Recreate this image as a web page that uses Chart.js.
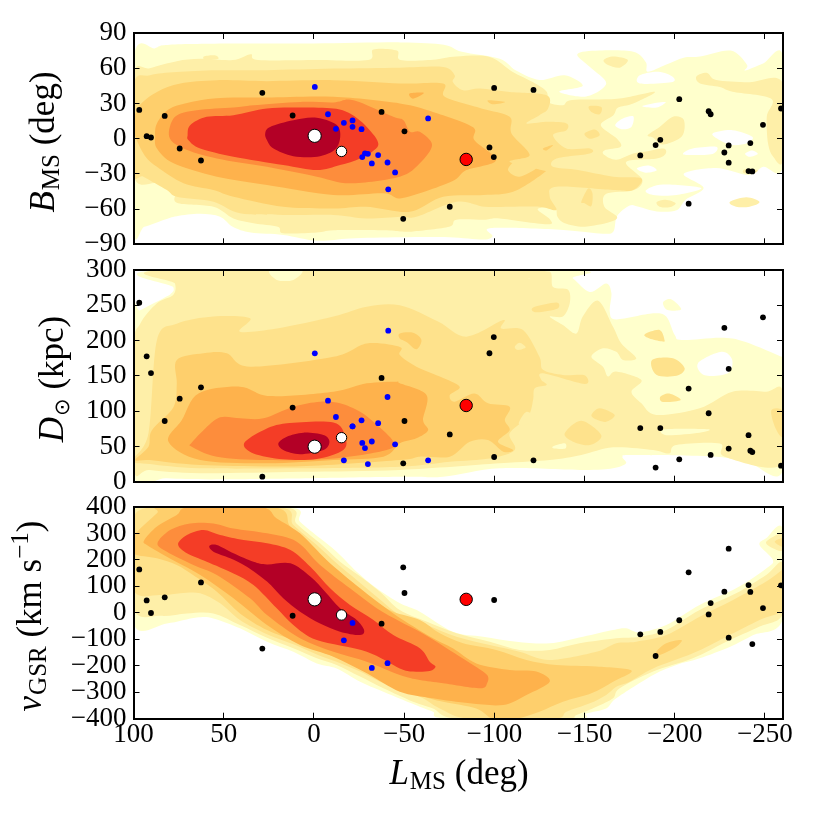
<!DOCTYPE html>
<html>
<head>
<meta charset="utf-8">
<title>Magellanic Stream coordinates</title>
<script src="https://cdn.jsdelivr.net/npm/chart.js@4"></script>
<style>
  html, body { margin: 0; background: #fff; }
  canvas { position: absolute; left: 0; }
</style>
</head>
<body>
<canvas id="panelB" width="814" height="280" style="top:0"></canvas>
<canvas id="panelD" width="814" height="282" style="top:235px"></canvas>
<canvas id="panelV" width="814" height="342" style="top:472px"></canvas>
<script>
// tick labels
const lTicks = [100, 50, 0, -50, -100, -150, -200, -250];
const bTicks = [-90, -60, -30, 0, 30, 60, 90];
const dTicks = [0, 50, 100, 150, 200, 250, 300];
const vTicks = [-400, -300, -200, -100, 0, 100, 200, 300, 400];

// black stars, same order in every panel (null = off the panel)
const blackL = [96.8, 92.7, 90.3, 82.7, 74.4, 62.6, 28.6, 11.8, -37.5, -50.2, -49.5, -75.3, -97.3, -99.7, -99.9, -121.7, -180.9, -189.4, -192, -202.5, -207.7, -218.8, -219.9, -227.5, -229.9, -229.9, -240.9, -243, -241.9, -248.9, -258.9];
const blackB = [24.5, 2.1, 1, 19.4, -8.4, -18.6, 39, 19.7, 22.8, 6.2, -68.3, -58, -7.5, -15.7, 43.2, 41.5, -14.3, -5.5, -1, 33.6, -55.4, 23.4, 20.8, -11.8, -5.8, -20.5, -27.6, -27.9, -3.8, 11.8, 25.7];
const blackD = [253.7, 177.7, 154, 86, 117.7, 133.7, 7.1, 105, 147, 86, 26, 67, 182, 205, 35, 30.3, 76, 20, 76, 31.7, 132, 97, 38, 218, 160, 47, 66, 42, 44, 233, 22.7];
const blackV = [164, 47, -0.6, 58.6, null, 115, -135, -11, -41, 75, 172, null, null, null, 48.5, null, -81, -163, -72, -28, 153, -6, 37, 80, 242.5, -94, 105, -118, 79, 18, 104];

// blue stars
const blueL = [-0.5, -7.8, -12.2, -16.6, -21.4, -21.4, -26.4, -26.8, -28.3, -29.9, -32.1, -35.6, -40.8, -41.2, -45, -63.3];
const blueB = [44.1, 20.8, 8.4, 13.5, 15.5, 10.1, 8.1, -15.7, -12.6, -12.9, -21.1, -14, -20.3, -43.2, -28.8, 17.2];
const blueD = [181.9, 114.8, 91.7, 30.3, 78.5, 78.5, 87, 55, 47.7, 25, 57, 83, 120, 214, 53, 30.3];
const blueV = [null, null, null, -104, -38, null, null, null, null, null, -208, null, -190, null, null, null];

// big markers: LMC, SMC, red one
const lmc = { l: -0.4, b: 2.4, d: 49.6, v: 51 };
const smc = { l: -15.3, b: -10.9, d: 62.4, v: -8 };
const red = { l: -84.4, b: -17.7, d: 108, v: 51 };

const levelColors = ['#ffffff', '#ffffcc', '#feefa8', '#fee28c', '#fecf6c', '#feb24c', '#fd8d3c', '#f43d26', '#b30026'];

// --- B panel contours, [L, B]
const bL1 = [[100,68],[88,77],[80,80],[45,81],[0,81],[-48,82],[-72,80],[-82,74],[-103,68],[-112,58],[-125,50],[-139,54],[-149,45],[-136,40],[-151,36],[-162,47],[-153,61],[-146,72],[-158,75],[-177,74],[-184,65],[-185,57],[-195,63],[-205,69],[-214,70],[-231,75],[-240,63],[-239,58],[-249,64],[-260,70],[-260,-23],[-249,-24],[-241,-31],[-223,-25],[-205,-30],[-216,-42],[-206,-52],[-201,-61],[-190,-62],[-180,-58],[-175,-57],[-168,-66],[-166,-79],[-160,-81],[-140,-78],[-107,-76],[-96,-77],[-99,-83],[-94,-86],[-75,-84],[-48,-84],[-20,-85],[-2,-87],[17,-82],[35,-80],[45,-75],[52,-66.5],[63,-64],[76,-66],[83,-69],[94,-75],[100,-76]];
const bHoles = [
  [[-167,11.5],[-171,17],[-177,19],[-176,10],[-171,8]],
  [[-182,27.6],[-190,30.5],[-195,31],[-190,26.5]],
  [[-180.6,54],[-180.6,47],[-198,48],[-199,52.6],[-191,57]],
  [[-221,4.4],[-232,7.2],[-243,1.6],[-240,-4],[-232,-5.5],[-225,-1.3]],
  [[-204.6,-12.6],[-210,-8.4],[-223,-7],[-221,-13],[-208,-14]],
  [[-239,-12.6],[-243,-10],[-246,-13],[-241.5,-15.4]],
  [[-179,-25.4],[-186,-23],[-190,-27],[-184,-29]],
  [[-184,-44],[-193.5,-39],[-214.7,-42],[-201,-48],[-188,-48]],
  [[76,64],[72,65],[71,63.5],[75,63]]
];
const bL2 = [[100,54],[91,60],[76,66],[63,68],[45,67],[35,72],[31,67],[-2,67],[-30,67],[-33,76],[-46,75],[-48,67],[-66,67.3],[-79,70],[-97.5,69.6],[-110,57],[-121.5,48],[-129,40],[-130,31],[-138,28.5],[-143,33],[-168,34],[-189,40],[-177,30],[-168.6,26.5],[-166,20],[-159,11.5],[-168,0],[-170,-7],[-161,-10],[-161,-14],[-167.6,-18],[-177,-12.6],[-184,-11],[-193.6,-8.4],[-195,-12.6],[-190,-17],[-173,-20],[-182,-35],[-177,-44],[-162,-47],[-161,-58],[-168,-66.5],[-164,-71],[-150,-75],[-139,-72],[-135,-66.5],[-133.5,-59],[-124,-60],[-131,-69],[-129,-73],[-103,-68],[-95,-69],[-79,-69],[-75,-75],[-55,-79],[-48,-79],[-38.5,-78],[-11,-78],[-1.6,-80],[17,-80.6],[20,-75],[33.5,-72],[44.6,-68],[55.7,-58],[76,-54.6],[77,-44],[87,-38],[100,-31]];
const bL2Right = [[-212,53],[-218,56],[-223,50],[-241,48],[-260,47],[-260,-18],[-254.4,-15],[-251.7,-4],[-251,18.6],[-253.5,34],[-232,40],[-225,44],[-214,47]];
const bL2Islands = [
  [[-160.6,67],[-166,70],[-174,67],[-169.5,60.5],[-163,62.7]],
  [[-185,3],[-191.6,10],[-199,18.7],[-205,16],[-204,2],[-193.5,-5],[-188,1]],
  [[-190,-54],[-195,-52],[-200.5,-55],[-197,-58.5],[-191.6,-58]],
  [[-230.5,-54],[-239.7,-50],[-247,-54],[-241.5,-58],[-234,-58]],
  [[-239,-26],[-246,-27],[-243,-30],[-238,-29]],
  [[61,70],[55,71],[53,68],[60,67]]
];
const bL3 = [[100,45.5],[90.8,54],[76,56.8],[53.8,58.3],[26,58.3],[-10.8,59.7],[-47.6,60.5],[-71.6,61],[-78,54],[-77,48.3],[-82.7,41.2],[-92,42.7],[-108.5,39.8],[-129,37],[-129.8,25.7],[-125,20],[-117.8,13],[-129.8,14.3],[-140,13],[-140,7.2],[-132.5,3],[-140,-8.4],[-152.9,-8.4],[-152.9,-12.6],[-134.4,-16.9],[-132.5,-24],[-146.4,-26.8],[-165.8,-32.4],[-181.5,-33.9],[-176.9,-43.8],[-165.8,-43.8],[-134.4,-41],[-130.7,-49.5],[-134.4,-60.8],[-125,-58],[-108.5,-58],[-94.7,-58],[-79,-53.7],[-56.8,-66.5],[-48,-66.5],[-29,-68],[-10.8,-65],[17,-65],[41,-63.6],[55.7,-53.7],[76,-49.5],[81.5,-43.8],[94.5,-32.4],[100,-28.2]];
const bL3Islands = [
  [[-152.5,27.6],[-159.3,27],[-158.4,20.8],[-153.8,22.8]],
  [[-150,4.4],[-155.6,7.8],[-158.4,3],[-152.9,0]],
  [[-148.2,-53.7],[-152,-42.4],[-154.4,-46.6],[-153.8,-57.4],[-150,-55]]
];
const bL4 = [[100,8.7],[97.2,27],[87,39.8],[74,47],[53.8,49.8],[26,49],[-10.8,49.8],[-47.6,47],[-71.6,47],[-72.5,35.6],[-92.8,25.7],[-108.5,18.6],[-109.5,4.4],[-119.6,-14],[-108.5,-19.7],[-126,-26.8],[-127,-29.6],[-110.4,-45.2],[-93.8,-48],[-71.6,-49.5],[-56.8,-60.8],[-47.6,-62.2],[-29,-58],[-10.8,-59.4],[17,-58],[44.6,-49.5],[55.7,-43.8],[72.3,-38],[87,-24],[94.5,-12.6]];
const bL4Islands = [
  [[-96.5,32.7],[-106,31.3],[-99,29.3]],
  [[-127,-8.4],[-132.5,-5.5],[-129,-10]]
];
const bL3Patch = [[-107.6,-26.8],[-112.2,-18.3],[-121.5,-17],[-124.2,-24],[-114,-32.4]];
const bL5 = [[88,1.6],[87,13],[79.7,25.7],[63,32.7],[44.6,35],[26,35],[-10.8,35.6],[-47.6,30],[-66,22.8],[-88,10],[-89,-1.3],[-101,-18.3],[-84.5,-26.8],[-78,-35.3],[-64,-43.8],[-47.6,-50.9],[-38.5,-46.6],[-10.8,-48],[26,-39.5],[53.8,-32.4],[77.8,-21],[87,-8.4]];
const bL5Island = [[-53,38.5],[-61,39],[-55,34]];
const bL6 = [[80.2,1.6],[77,18.6],[65,24.2],[44.6,26.5],[33.5,28.5],[7.7,31.3],[-10.8,30.8],[-21.9,32.7],[-44,18.6],[-49.6,15.7],[-53.3,5.8],[-58.7,5.8],[-65.5,-5.5],[-58.7,-21],[-47.6,-32.4],[-20,-38],[-1.6,-32.4],[26,-24],[53.8,-16.9],[72.3,-8.4]];
const bL7 = [[70,3],[68.6,11.5],[59.4,18.6],[44.6,20],[26,25.7],[7.7,26.5],[-10.8,25.7],[-20,21.4],[-29.3,10],[-35.7,-5.5],[-25.6,-16.9],[-14.5,-22.5],[-1.6,-26.8],[17,-22.5],[44.6,-15.4],[63,-8.4],[69.5,-1.3]];
const bL8 = [[27,4.4],[24.3,10],[11.4,15.7],[-1.6,17.7],[-13.6,10],[-13,-6.9],[-3.4,-14.9],[11.4,-14.9],[22.4,-8.4],[26,-1.3]];

// --- D panel contours, [L, D]
const dL1 = [[84.3,300],[-136,300],[-143.6,288],[-152.9,269],[-162,281],[-164.9,267],[-164,241],[-167.6,230],[-188,238.6],[-195.3,234],[-200,208],[-204.6,200.8],[-232,203],[-259.4,177],[-260,177],[-260,16.6],[-241.5,26],[-223,35.5],[-177,38],[-171,35.5],[-173,26],[-165.8,19],[-149,16.6],[-103,19],[-71.6,7],[-47.6,7],[44.6,3.4],[81.5,4.8],[100,12],[100,238.6],[96.3,243],[83.4,260],[79,267],[78,276]];
const dHole = [[-212.9,168],[-225.8,184],[-231.8,173],[-229.5,153.7],[-216.6,151]];
const dL1Island = [[-193.5,254],[-198,258.6],[-203.6,244.3],[-196,243.3]];
const dL2 = [[100,189],[96.3,224],[87,253],[78,264.6],[77,281],[81.5,300],[-116.8,300],[-118.7,288],[-130.7,297.6],[-132.5,276],[-140.9,272],[-141.8,252.8],[-138,234],[-130.7,234],[-138,222],[-145.5,210],[-149,234],[-157.5,256.5],[-165.8,219.7],[-170.4,196],[-178.7,175],[-171.3,172.5],[-167.6,184],[-160.2,189],[-153.8,177],[-160.2,163],[-163,149],[-167.6,156],[-181.5,144],[-176,127.6],[-181.5,111],[-189.8,94.5],[-213.8,104],[-232,127.6],[-250.7,127.6],[-260,127.6],[-260,25],[-227.7,35.5],[-225,54],[-200.9,52],[-197,40],[-188,45],[-165.8,48.7],[-148.2,37.8],[-130.7,30.7],[-103,26],[-47.6,16.6],[7.7,14],[63,12],[91,16.6],[100,21]];
const dL1Patches = [
  [[-194.4,74.2],[-218.4,74.2],[-213.8,69.4],[-195.3,66]],
  [[-132.5,50],[-139,54.4],[-139.4,47],[-133.4,47]],
  [[24.3,300],[6.8,300],[11.4,286],[20.6,286]]
];
const dL3 = [[100,30.7],[91.7,68.5],[87,200.8],[76,224],[55.7,234],[35.4,231.5],[41,212.6],[20.6,217],[-10.8,234],[-29.3,248],[-47.6,250],[-68.8,227],[-84.5,205.5],[-104.9,229],[-103.9,217],[-115.9,215],[-125,177],[-127,158.5],[-138,151.2],[-150,151],[-150,138.5],[-127,153.6],[-126,144.3],[-129,137],[-122.4,132.3],[-121.5,116],[-118.7,92.2],[-108.5,68.5],[-111.3,45],[-97.4,33],[-75.3,28.4],[-47.6,21.3],[7.7,19],[63,19],[91,25]];
const dL3Islands = [
  [[-121.5,247],[-134.4,254],[-134.8,245],[-123.3,240]],
  [[-153.8,94.5],[-158.4,104],[-166.7,94.5],[-162,85],[-156.6,88]],
  [[-139,68.5],[-148.2,86.5],[-159.3,66],[-153,52],[-143.6,56.7]],
  [[-183.3,208.7],[-191.6,215],[-194.4,200],[-192.6,199],[-186,203]],
  [[-187.4,172.5],[-199,175],[-205.5,160.7],[-201,150],[-189.8,151.5]],
  [[-192,120.5],[-197,125],[-203.3,115.8],[-193.5,113]],
  [[-253.5,101],[-260,100],[-260,64],[-256,75]]
];
const dL2Patches = [
  [[-113.5,82.7],[-117.8,99],[-122.4,89.8],[-116.9,80]],
  [[-111.3,191],[-114,197],[-117.4,190.4],[-113.2,186.6]]
];
const dL4 = [[99,30.7],[91.7,49.6],[89.8,73],[77.8,106],[76,139],[76,172.5],[61.2,182],[48.3,182],[35.4,163],[-10.8,177],[-29.3,196],[-47.7,191],[-47.6,179.5],[-56.8,163],[-69.8,149],[-80.8,134.7],[-75.3,122.9],[-78,113.4],[-89,125],[-96.5,111],[-108.5,106.3],[-105.8,87.4],[-108.5,73],[-102,56.7],[-110.4,45],[-104.9,42.6],[-96.5,59],[-86.4,56.7],[-75.3,35.5],[-58.7,35.5],[-47.6,30.7],[7.7,22],[63,23.7],[91,30.7]];
const dL4Island = [[-47.6,210],[-55,211],[-59.6,200.8],[-56.8,187.6],[-51.3,198],[-47.6,203]];
const dL5 = [[80.6,56.7],[73.2,87.4],[64,125],[41,134.7],[24.3,121.4],[-10.8,127.6],[-29.3,139.4],[-46,141.8],[-47.6,139.4],[-62.4,122.9],[-60.5,87.4],[-63.3,73],[-56.8,61.5],[-47.6,54.4],[-38.5,35.5],[-10.8,30.7],[26,26],[63,30.7]];
const dL6 = [[68,54.4],[61.2,73],[52,91.2],[40.9,89.8],[28,89.8],[11.4,106.3],[-3.4,113.4],[-14.5,111],[-25.6,99],[-33.9,82.7],[-44,56.7],[-40.3,45],[-10.8,33],[26,30.7],[53.8,35.5],[67.7,49.6]];
const dL7 = [[38.7,54.4],[28,73],[15,82.7],[-10.8,84],[-17.3,63.8],[-16.3,45],[-1.6,32.2],[17,31.7],[33.5,40]];
const dL8 = [[19.7,54.4],[15,63.8],[5.8,69.5],[-5.3,66.2],[-8.6,56.7],[-5.3,45],[7.7,39],[17,45]];

// --- v panel contours, [L, v]
const vL1 = [[100,351],[94.5,400],[15,400],[7.7,344.6],[-3.4,281.6],[-12.6,231],[-23.7,155.6],[-34.8,92.6],[-47.7,36],[-58.7,4.4],[-77,-71],[-93.8,-90],[-112.2,-109],[-130.7,-115],[-149.2,-90],[-165.8,-65],[-173,-58.6],[-180.6,-73.7],[-195.3,-46],[-213.8,29.7],[-234,92.6],[-250.7,168],[-254.4,199.7],[-247,256],[-250.7,281.6],[-260,313],[-260,-21],[-243.5,-84],[-230.7,-128],[-213.8,-172],[-200.9,-197],[-188,-235],[-167.6,-323],[-162,-361],[-151,-380],[-144.6,-400],[-74.4,-400],[-66,-373.5],[-58.7,-354.6],[-38.5,-298],[-25.6,-260],[-12.6,-210],[-1.6,-191],[11.4,-147],[26,-109],[41,-58.6],[55.7,-21],[65,-18],[81.5,-40],[100,-40]];
const vL2 = [[100,332],[92.6,400],[17,400],[9.7,338],[-3.4,263],[-14.5,193.4],[-24.6,143],[-36.6,80],[-47.6,10.7],[-62.4,-33],[-79,-77],[-97.5,-109],[-114,-140],[-130.7,-140],[-147.3,-115],[-167.6,-96],[-180.6,-90],[-195.3,-65],[-213.8,10.7],[-234,73.7],[-250.7,143],[-260,187],[-260,-2],[-247,-52],[-228.6,-109],[-210,-172],[-188,-222],[-169.5,-285],[-165.8,-323],[-156.6,-355],[-145.5,-386],[-138,-400],[-80,-400],[-66,-361],[-55,-336],[-38.5,-285],[-25.6,-241],[-12.6,-197],[-1.6,-172],[11.4,-134],[26,-94],[41,-46],[55.7,-2],[70.4,-2],[85,-11],[100,17]];
const vL2Lobe = [[-250.7,269],[-260,300.5],[-260,237.5],[-254.4,244]];
const vL3 = [[100,313],[90,400],[19.8,400],[11.4,332],[-1.6,256],[-12.6,187],[-23.7,124],[-34.8,61],[-47.6,-8],[-62.4,-46],[-79,-90],[-97.5,-121.6],[-114,-147],[-130.7,-178],[-156.6,-147],[-167.6,-115],[-178.7,-109],[-195.3,-84],[-213.8,-14.5],[-232.3,48.5],[-250.7,118],[-259.4,162],[-260,162],[-260,17],[-247,-27],[-228.6,-90],[-210,-153],[-188,-210],[-175,-260],[-167.6,-279],[-162,-310],[-152.9,-342],[-140,-373.5],[-132.5,-400],[-86.4,-400],[-69.8,-361],[-58.7,-317],[-38.5,-266],[-25.6,-222],[-12.6,-184.6],[-1.6,-157],[11.4,-119],[26,-81],[41,-27],[52,36],[63,74],[74,74],[85,67],[100,86]];
const vL3Lobe = [[-255.4,269],[-260,281.6],[-260,250]];
const vL4 = [[100,288],[87,376],[83.4,400],[22.4,400],[13,326],[0.3,250],[-10.8,174],[-21.9,111],[-33,48.5],[-44,4.4],[-58.7,-27],[-69.8,-77.5],[-82.7,-115],[-101,-140],[-117.8,-178],[-134.4,-197],[-156.6,-203],[-176,-218],[-165.8,-260],[-153.8,-304],[-138,-336],[-125,-373.5],[-112.2,-400],[-99.3,-400],[-90,-361],[-71.6,-336],[-58.7,-310],[-38.5,-247.6],[-25.6,-203],[-12.6,-169],[-1.6,-140],[11.4,-103],[26,-65],[41,-2],[53.8,80],[67,143],[76,181],[87,206],[100,225]];
const vL4Island = [[-189.8,-147],[-195.3,-115],[-203.7,-103],[-200.9,-128],[-191.6,-159]];
const vL5 = [[94,275],[87,326],[76,370],[68.6,400],[29.8,400],[20.6,357],[7.7,300.5],[-7,200],[-25.6,92.6],[-44,-2],[-66,-96],[-77,-134],[-90,-191],[-108.5,-216],[-123.3,-222],[-130.7,-260],[-117.8,-310],[-104.9,-348],[-86.4,-342],[-66,-323],[-47.6,-298],[-29.3,-228.6],[-10.8,-165.6],[7.7,-121.6],[26,-46],[44.6,55],[63,143],[81.5,212],[92.6,256]];
const vL6 = [[86.7,263],[79.7,313],[68.6,338],[55.7,338],[44.6,319],[26,300.5],[9.5,269],[-3.4,181],[-20,92.6],[-34.8,17],[-47.7,-33],[-58.7,-71],[-68,-109],[-78,-153],[-88.2,-197],[-96,-235],[-96,-266],[-92,-285],[-71.6,-266],[-58.7,-254],[-47.6,-235],[-29.3,-184.6],[-10.8,-147],[7.7,-96],[26,-8],[35.4,55],[53.8,143],[66.8,181],[81.5,231]];
const vL7 = [[75.3,259],[70.4,294],[61.2,313],[52,294],[39,275],[26,263],[13,237.5],[2,174],[-9,92.6],[-20,29.6],[-33,-27],[-44,-84],[-58.7,-134],[-64.2,-184.6],[-67.4,-203],[-64.2,-220],[-55,-222],[-47.6,-210],[-29.3,-147],[-1.6,-103],[11.4,-46],[20.6,17],[33.5,105],[44.6,149],[59.4,193],[70.4,225]];
const vL8 = [[58,252.5],[53.8,256],[44.6,225],[33.5,193],[26,183],[13,187],[2,137],[-6.2,80],[-14.5,17],[-23.7,-27],[-27.8,-65],[-25.6,-84],[-14.5,-71],[-3.4,-40],[7.7,4.4],[17,55],[26,118],[37.2,174],[46.4,206],[55.7,231]];

const tickFont = { family: '"Liberation Serif"', size: 27 };
const serif = '"Liberation Serif"';

function signed(v) {
  return v < 0 ? '\u2212' + Math.abs(v) : String(v);
}
function setTicks(list) {
  return scale => { scale.ticks = list.map(value => ({ value })); };
}
function inwardGrid() {
  return { drawOnChartArea: false, tickLength: -6, tickColor: '#000', tickWidth: 1, z: 1 };
}

// contour polygons: closed smooth fill through the dataset's own parsed points
const contourFill = {
  id: 'contourFill',
  beforeDatasetDraw(chart, args) {
    const ds = chart.data.datasets[args.index];
    if (!ds.contourColor) return;
    const a = chart.chartArea, ctx = chart.ctx, pts = args.meta.data, n = pts.length, t = 0.16;
    ctx.save();
    ctx.beginPath();
    ctx.rect(a.left, a.top, a.width, a.height);
    ctx.clip();
    ctx.beginPath();
    ctx.moveTo(pts[0].x, pts[0].y);
    for (let i = 0; i < n; i++) {
      const p0 = pts[(i - 1 + n) % n], p1 = pts[i], p2 = pts[(i + 1) % n], p3 = pts[(i + 2) % n];
      ctx.bezierCurveTo(p1.x + (p2.x - p0.x) * t, p1.y + (p2.y - p0.y) * t,
                        p2.x - (p3.x - p1.x) * t, p2.y - (p3.y - p1.y) * t, p2.x, p2.y);
    }
    ctx.closePath();
    ctx.fillStyle = ds.contourColor;
    ctx.fill();
    ctx.restore();
  }
};

// axis titles with sub- and superscripts
const mathTitle = {
  id: 'mathTitle',
  afterDraw(chart, args, opts) {
    (opts.titles || []).forEach(t => {
      const ctx = chart.ctx;
      ctx.save();
      ctx.fillStyle = '#000';
      ctx.textBaseline = 'alphabetic';
      ctx.textAlign = 'left';
      let total = 0;
      t.runs.forEach(r => { ctx.font = r.font; total += ctx.measureText(r.text).width + (r.gap || 0); });
      ctx.translate(t.x, t.y);
      if (t.vertical) ctx.rotate(-Math.PI / 2);
      let at = -total / 2;
      t.runs.forEach(r => {
        ctx.font = r.font;
        ctx.fillText(r.text, at, r.dy || 0);
        at += ctx.measureText(r.text).width + (r.gap || 0);
      });
      ctx.restore();
    });
  }
};

function shapes(list) {
  // dark levels first: the first dataset ends up on top
  return list.slice().reverse().map(([level, pts]) => ({
    type: 'scatter',
    data: pts.map(p => ({ x: p[0], y: p[1] })),
    contourColor: levelColors[level],
    pointRadius: 0,
    pointHoverRadius: 0,
    showLine: false
  }));
}
function stars(xs, ys, color, radius) {
  const small = color === '#000000' || color === '#0000ff';
  return {
    type: 'scatter',
    data: xs.map((x, i) => ({ x, y: ys[i] })),
    backgroundColor: color,
    borderColor: small ? color : '#000',
    borderWidth: small ? 0 : 1,
    pointRadius: radius,
    pointHoverRadius: radius,
    clip: 0
  };
}

function makePanel(id, yKey, yMin, yMax, yList, list, pad, showX, titles) {
  const yOf = { b: [blackB, blueB], d: [blackD, blueD], v: [blackV, blueV] }[yKey];
  new Chart(document.getElementById(id), {
    type: 'scatter',
    data: {
      datasets: [
        stars([lmc.l], [lmc[yKey]], '#ffffff', 6.6),
        stars([smc.l], [smc[yKey]], '#ffffff', 5.2),
        stars([red.l], [red[yKey]], '#ff0000', 6.2),
        stars(blueL, yOf[1], '#0000ff', 2.9),
        stars(blackL, yOf[0], '#000000', 2.9),
        ...shapes(list)
      ]
    },
    options: {
      responsive: false,
      animation: false,
      events: [],
      layout: { padding: pad },
      plugins: {
        legend: { display: false },
        tooltip: { enabled: false },
        mathTitle: { titles }
      },
      scales: {
        x: {
          type: 'linear', position: 'bottom', reverse: true, min: -260, max: 100,
          afterBuildTicks: setTicks(lTicks),
          afterFit: s => { s.height = showX ? 50 : 0; },
          grid: inwardGrid(),
          border: { color: '#000', width: 2, z: 1 },
          ticks: { display: showX, font: tickFont, color: '#000', padding: 6, maxRotation: 0, autoSkip: false, callback: signed }
        },
        xTop: {
          type: 'linear', position: 'top', reverse: true, min: -260, max: 100,
          afterBuildTicks: setTicks(lTicks),
          afterFit: s => { s.height = 0; },
          grid: inwardGrid(),
          border: { color: '#000', width: 2, z: 1 },
          ticks: { display: false }
        },
        y: {
          type: 'linear', position: 'left', min: yMin, max: yMax,
          afterBuildTicks: setTicks(yList),
          afterFit: s => { s.width = 133.5; },
          grid: inwardGrid(),
          border: { color: '#000', width: 2, z: 1 },
          ticks: { font: tickFont, color: '#000', padding: 13, autoSkip: false, callback: signed }
        },
        yRight: {
          type: 'linear', position: 'right', min: yMin, max: yMax,
          afterBuildTicks: setTicks(yList),
          afterFit: s => { s.width = 0; },
          grid: inwardGrid(),
          border: { color: '#000', width: 2, z: 1 },
          ticks: { display: false }
        }
      }
    },
    plugins: [contourFill, mathTitle]
  });
}

const big = '35px ' + serif, bigItalic = 'italic 35px ' + serif, sub = '25px ' + serif;

makePanel('panelB', 'b', -90, 90, bTicks, [
  [1, bL1], [0, bHoles[0]], [0, bHoles[1]], [0, bHoles[2]], [0, bHoles[3]], [0, bHoles[4]], [0, bHoles[5]], [0, bHoles[6]], [0, bHoles[7]], [0, bHoles[8]],
  [2, bL2], [2, bL2Right], ...bL2Islands.map(p => [2, p]),
  [3, bL3], ...bL3Islands.map(p => [3, p]),
  [4, bL4], ...bL4Islands.map(p => [4, p]), [3, bL3Patch],
  [5, bL5], [5, bL5Island], [6, bL6], [7, bL7], [8, bL8]
], { left: 0, right: 31, top: 33, bottom: 35.7 }, false, [
  { vertical: true, x: 54, y: 142, runs: [{ text: 'B', font: bigItalic, gap: 1 }, { text: 'MS', font: sub, dy: 5 }, { text: ' (deg)', font: big }] }
]);

makePanel('panelD', 'd', 0, 300, dTicks, [
  [1, dL1], [0, dHole], [1, dL1Island],
  [2, dL2], ...dL1Patches.map(p => [1, p]),
  [3, dL3], ...dL3Islands.map(p => [3, p]), ...dL2Patches.map(p => [2, p]),
  [4, dL4], [4, dL4Island], [5, dL5], [6, dL6], [7, dL7], [8, dL8]
], { left: 0, right: 31, top: 35, bottom: 35.3 }, false, [
  { vertical: true, x: 62.7, y: 379 - 235, runs: [{ text: 'D', font: bigItalic, gap: 1 }, { text: '\u2299', font: '21px "DejaVu Sans"', dy: 6 }, { text: ' (kpc)', font: big }] }
]);

makePanel('panelV', 'v', -400, 400, vTicks, [
  [1, vL1], [2, vL2], [2, vL2Lobe], [3, vL3], [3, vL3Lobe], [4, vL4], [4, vL4Island], [5, vL5], [6, vL6], [7, vL7], [8, vL8]
], { left: 0, right: 31, top: 35, bottom: 45.3 }, true, [
  { vertical: true, x: 40.7, y: 616 - 472, runs: [{ text: 'v', font: bigItalic, gap: 1 }, { text: 'GSR', font: sub, dy: 5 }, { text: ' (km s', font: big }, { text: '\u22121', font: sub, dy: -13 }, { text: ')', font: big }] },
  { vertical: false, x: 459, y: 784 - 472, runs: [{ text: 'L', font: bigItalic, gap: 1 }, { text: 'MS', font: sub, dy: 5 }, { text: ' (deg)', font: big }] }
]);
</script>
</body>
</html>
